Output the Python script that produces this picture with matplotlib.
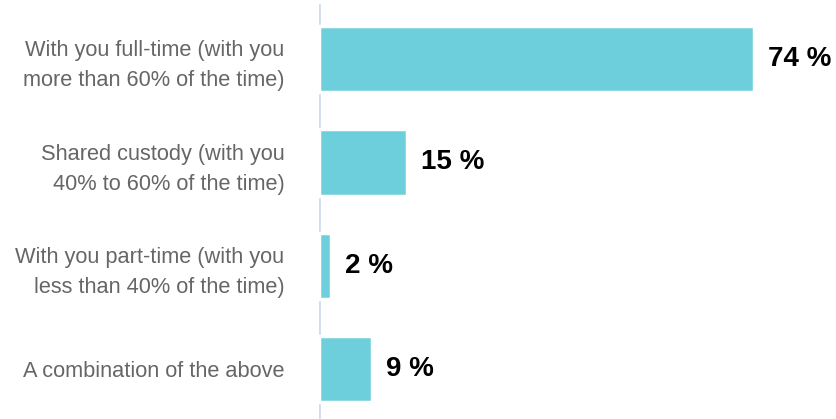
import matplotlib.pyplot as plt

# chart data
categories = [
    "With you full-time (with you\nmore than 60% of the time)",
    "Shared custody (with you\n40% to 60% of the time)",
    "With you part-time (with you\nless than 40% of the time)",
    "A combination of the above",
]
values = [74, 15, 2, 9]
value_labels = ["74 %", "15 %", "2 %", "9 %"]

bar_color = "#6dcfdb"
line_color = "#d3daf0"

plt.rcParams['font.family'] = ['Liberation Sans', 'DejaVu Sans']

fig = plt.figure(figsize=(8.36, 4.19), dpi=100)
ax = fig.add_axes([319 / 836, 0, 517 / 836, 1])

y = list(range(len(categories)))

# vertical axis line sits behind the bars, white bar edges break it
ax.axvline(0, ymin=0, ymax=0.987, color=line_color, linewidth=2, zorder=1)
ax.barh(y, values, height=0.64, color=bar_color, edgecolor="white",
        linewidth=2.5, zorder=2)

for yi, v, lab in zip(y, values, value_labels):
    ax.annotate(lab, (v, yi), xytext=(10, 0), textcoords="offset points",
                va="center", ha="left", fontsize=20, fontweight="bold",
                color="black")

ax.set_xlim(0, 517 / 5.88)
ax.set_ylim(3.48, -0.57)
ax.set_yticks(y)
ax.set_yticklabels(categories, fontsize=15.7, color="#666666", linespacing=1.55)
ax.tick_params(axis="y", length=0, pad=25)
ax.set_xticks([])
for s in ax.spines.values():
    s.set_visible(False)

fig.savefig("out.png", dpi=100)
